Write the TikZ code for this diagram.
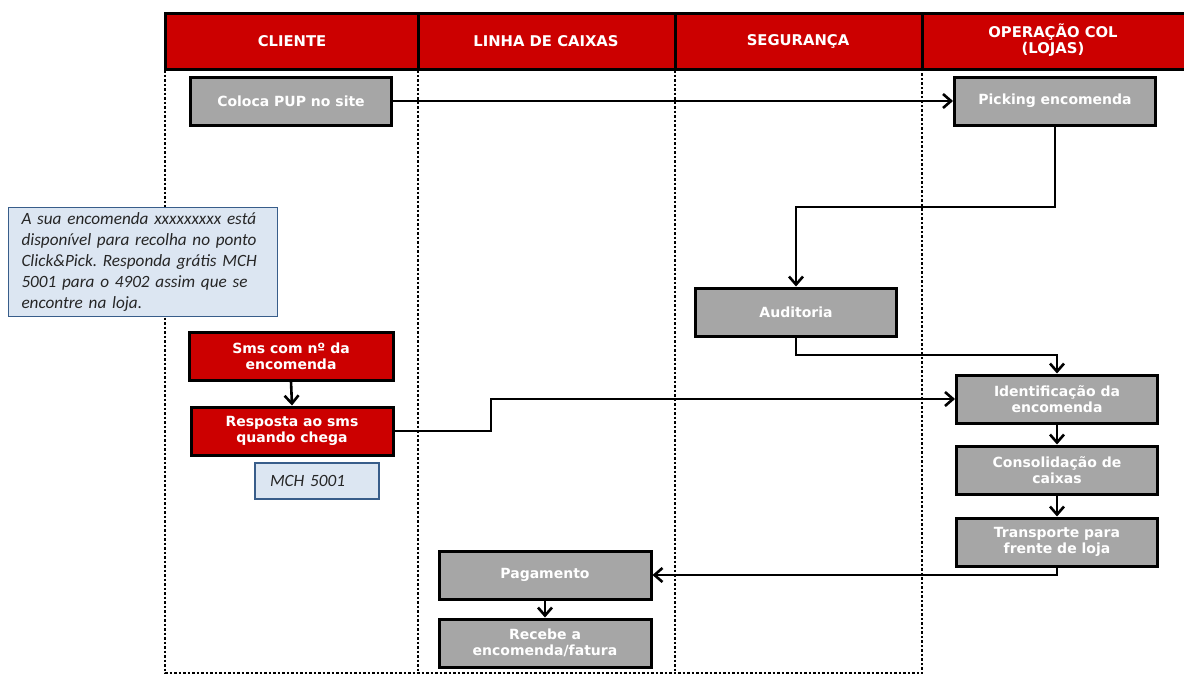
\documentclass[tikz,border=0pt]{standalone}
\usepackage{fontspec}
\setmainfont{DejaVu Sans}
\newfontfamily\notefont{Carlito}
\usetikzlibrary{arrows.meta}
\frenchspacing
\definecolor{hdrred}{HTML}{CC0000}
\definecolor{boxgray}{HTML}{A6A6A6}
\definecolor{notefill}{HTML}{DCE6F2}
\definecolor{noteline}{HTML}{385D8A}
\tikzset{
  lbl/.style={font=\bfseries\fontsize{14}{16}\selectfont, text=white, align=center},
  hdr/.style={font=\bfseries\fontsize{14.8}{16}\selectfont, text=white, align=center},
  graybox/.style={lbl, draw=black, line width=3pt, fill=boxgray, minimum width=201pt, minimum height=48pt, inner sep=0pt},
  redbox/.style={graybox, fill=hdrred},
  notebox/.style={draw=noteline, line width=1.3pt, fill=notefill, text=black!85, inner sep=0pt,
    font=\notefont\itshape\fontsize{17.2}{21}\selectfont, align=left},
  flow/.style={line width=2.6pt, -{Straight Barb[length=8pt,width=14pt,line width=2.6pt]}},
  lane/.style={line width=2.5pt, dash pattern=on 2.5pt off 2pt},
}
\begin{document}
\begin{tikzpicture}[x=1pt,y=-1pt]
\useasboundingbox (0,0) rectangle (1184,675);
% lanes
\draw[lane] (165,70) -- (165,673) -- (922,673) -- (922,70);
\draw[lane] (418,70) -- (418,673);
\draw[lane] (675,70) -- (675,673);
% header
\fill[hdrred] (165,13) rectangle (1190,69);
\draw[line width=3pt] (1190,13) -- (165,13) -- (165,69) -- (1190,69);
\draw[line width=3pt] (418,13) -- (418,69);
\draw[line width=3pt] (675,13) -- (675,69);
\draw[line width=3pt] (922,13) -- (922,69);
\node[hdr] (hcli) at (292,41) {CLIENTE};
\node[hdr] (hlin) at (546,41) {LINHA DE CAIXAS};
\node[hdr] (hseg) at (798,41) {SEGURANÇA};
\node[hdr] (hope) at (1053,40) {OPERAÇÃO COL\\(LOJAS)};
% nodes
\node[graybox] (coloca) at (291,101) {Coloca PUP no site};
\node[graybox] (picking) at (1055,101) {Picking encomenda};
\node[graybox] (auditoria) at (796,312) {Auditoria};
\node[graybox] (ident) at (1057,399) {Identificação da\\encomenda};
\node[graybox] (consol) at (1057,470) {Consolidação de\\caixas};
\node[graybox] (transp) at (1057,542) {Transporte para\\frente de loja};
\node[graybox, minimum width=212pt] (pag) at (545,575) {Pagamento};
\node[graybox, minimum width=212pt] (recebe) at (545,643) {Recebe a\\encomenda/fatura};
\node[redbox, minimum width=204pt] (sms) at (291,356) {Sms com nº da\\encomenda};
\node[redbox, minimum width=202pt] (resp) at (292,431) {Resposta ao sms\\quando chega};
\node[notebox, minimum width=124pt, minimum height=36pt, text width=94pt] (mch) at (317,481) {MCH 5001};
\node[notebox, minimum width=269pt, minimum height=109pt, text width=243pt] (note) at (143,262)
  {A sua encomenda xxxxxxxxx está\\disponível para recolha no ponto\\Click\&Pick. Responda grátis MCH\\5001 para o 4902 assim que se\\encontre na loja.};
% helper coordinates
\coordinate (k1) at (0,207);
\coordinate (k2) at (0,355);
\coordinate (k3) at (491,415);
% connectors
\draw[flow] (coloca.east) -- (picking.west);
\draw[flow] (picking.south) -- (picking.south |- k1) -| (auditoria.north);
\draw[flow] (auditoria.south) -- (auditoria.south |- k2) -| (ident.north);
\draw[flow] (resp.east) -| (k3) |- (ident.west);
\draw[flow] (ident.south) -- (consol.north);
\draw[flow] (consol.south) -- (transp.north);
\draw[flow] (transp.south) |- (pag.east);
\draw[flow] (pag.south) -- (recebe.north);
\draw[flow] (sms.south) -- (resp.north);
\end{tikzpicture}
\end{document}
